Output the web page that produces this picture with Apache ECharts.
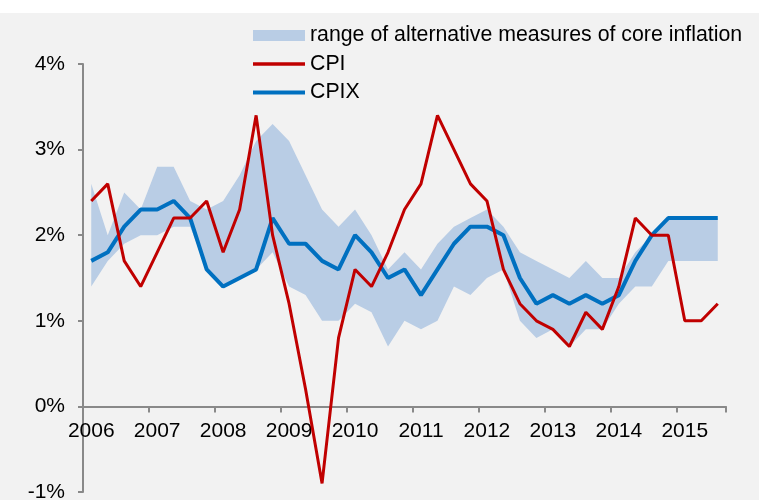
<!DOCTYPE html>
<html>
<head>
<meta charset="utf-8">
<script src="https://cdn.jsdelivr.net/npm/echarts@6/dist/echarts.min.js"></script>
<style>
html,body{margin:0;padding:0;background:#fff;}
#chart{width:759px;height:500px;}
</style>
</head>
<body>
<div id="chart"></div>
<script>
// Quarterly categories 2006Q1 .. 2015Q3
var years = ['2006','2007','2008','2009','2010','2011','2012','2013','2014','2015'];
var quarters = [];
years.forEach(function (y) { ['Q1','Q2','Q3','Q4'].forEach(function (q) { quarters.push(y + ' ' + q); }); });
quarters = quarters.slice(0, 39);

var cpi = [2.4, 2.6, 1.7, 1.4, 1.8, 2.2, 2.2, 2.4, 1.8, 2.3,
           3.4, 2.0, 1.2, 0.2, -0.9, 0.8, 1.6, 1.4, 1.8, 2.3,
           2.6, 3.4, 3.0, 2.6, 2.4, 1.6, 1.2, 1.0, 0.9, 0.7,
           1.1, 0.9, 1.4, 2.2, 2.0, 2.0, 1.0, 1.0, 1.2];

var cpix = [1.7, 1.8, 2.1, 2.3, 2.3, 2.4, 2.2, 1.6, 1.4, 1.5,
            1.6, 2.2, 1.9, 1.9, 1.7, 1.6, 2.0, 1.8, 1.5, 1.6,
            1.3, 1.6, 1.9, 2.1, 2.1, 2.0, 1.5, 1.2, 1.3, 1.2,
            1.3, 1.2, 1.3, 1.7, 2.0, 2.2, 2.2, 2.2, 2.2];

var bandUpper = [2.6, 2.0, 2.5, 2.3, 2.8, 2.8, 2.4, 2.3, 2.4, 2.7,
                 3.1, 3.3, 3.1, 2.7, 2.3, 2.1, 2.3, 2.0, 1.6, 1.8,
                 1.6, 1.9, 2.1, 2.2, 2.3, 2.1, 1.8, 1.7, 1.6, 1.5,
                 1.7, 1.5, 1.5, 1.8, 2.0, 2.2, 2.2, 2.2, 2.2];

var bandLower = [1.4, 1.7, 1.9, 2.0, 2.0, 2.1, 2.1, 1.6, 1.4, 1.5,
                 1.6, 1.8, 1.4, 1.3, 1.0, 1.0, 1.2, 1.1, 0.7, 1.0,
                 0.9, 1.0, 1.4, 1.3, 1.5, 1.6, 1.0, 0.8, 0.9, 0.7,
                 0.9, 0.9, 1.2, 1.4, 1.4, 1.7, 1.7, 1.7, 1.7];

var yTicks = [-1, 0, 1, 2, 3, 4];

var bandName = 'range of alternative measures of core inflation';
var bandSpan = bandUpper.map(function (u, i) { return +(u - bandLower[i]).toFixed(2); });

var FONT = "'Liberation Sans', Arial, sans-serif";
var GRID_TOP = 64, GRID_BOTTOM = 8, H = 500;
var yMin = yTicks[0], yMax = yTicks[yTicks.length - 1];
// shift x axis (line, ticks, labels) up so it sits on the 0% level
var zeroOffset = -((H - GRID_TOP - GRID_BOTTOM) * (0 - yMin) / (yMax - yMin));

var chart = echarts.init(document.getElementById('chart'), null, {renderer: 'canvas'});
chart.setOption({
  animation: false,
  backgroundColor: '#f2f2f2',
  graphic: [{
    type: 'rect', z: -10,
    shape: {x: 0, y: 0, width: 759, height: 13},
    style: {fill: '#ffffff'}
  }],
  grid: {left: 83, right: 33, top: GRID_TOP, bottom: GRID_BOTTOM, containLabel: false, outerBoundsMode: 'none'},
  legend: {
    orient: 'vertical',
    left: 251, top: 25,
    padding: 0,
    itemWidth: 52, itemHeight: 11, itemGap: 7.5,
    textStyle: {fontFamily: FONT, fontSize: 21.3, color: '#000'},
    data: [
      {name: bandName, icon: 'rect'},
      {name: 'CPI', itemStyle: {opacity: 0}, lineStyle: {width: 3.5}},
      {name: 'CPIX', itemStyle: {opacity: 0}, lineStyle: {width: 4}}
    ]
  },
  xAxis: {
    type: 'category',
    data: quarters,
    boundaryGap: true,
    position: 'bottom',
    offset: zeroOffset,
    axisLine: {onZero: false, lineStyle: {color: '#898989', width: 2}},
    axisTick: {show: true, interval: 3, length: 6, lineStyle: {color: '#898989', width: 2}},
    axisLabel: {
      interval: 3, margin: 14,
      fontFamily: FONT, fontSize: 21, color: '#000',
      formatter: function (v) { return v.slice(0, 4); }
    },
    splitLine: {show: false}
  },
  yAxis: {
    type: 'value',
    min: yMin, max: yMax, interval: 1,
    axisLine: {show: true, lineStyle: {color: '#898989', width: 2}},
    axisTick: {show: true, length: 5, lineStyle: {color: '#898989', width: 2}},
    axisLabel: {margin: 18, fontFamily: FONT, fontSize: 21, color: '#000', formatter: '{value}%'},
    splitLine: {show: false}
  },
  series: [
    {
      name: '_lower', type: 'line', stack: 'band', data: bandLower,
      symbol: 'none', silent: true, lineStyle: {width: 0, opacity: 0}, z: 1
    },
    {
      name: bandName, type: 'line', stack: 'band', data: bandSpan,
      symbol: 'none', silent: true, color: '#b9cde5',
      itemStyle: {color: '#b9cde5'},
      lineStyle: {width: 0, opacity: 0},
      areaStyle: {color: '#b9cde5', opacity: 1}, z: 1
    },
    {
      name: 'CPIX', type: 'line', data: cpix, symbol: 'none', color: '#0070c0',
      lineStyle: {color: '#0070c0', width: 4}, z: 3
    },
    {
      name: 'CPI', type: 'line', data: cpi, symbol: 'none', color: '#c00000',
      lineStyle: {color: '#c00000', width: 3}, z: 4
    }
  ]
});
</script>
</body>
</html>
